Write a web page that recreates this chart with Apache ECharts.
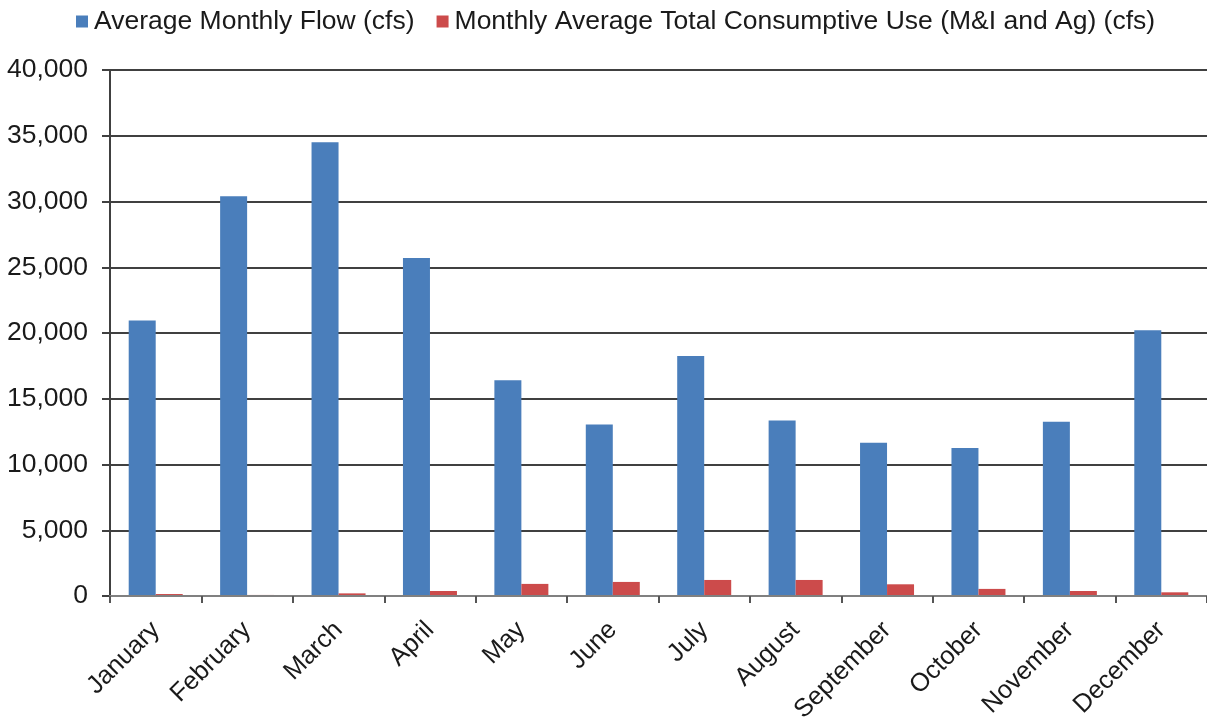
<!DOCTYPE html>
<html>
<head>
<meta charset="utf-8">
<script src="https://cdn.jsdelivr.net/npm/echarts@6/dist/echarts.min.js"></script>
<style>
html,body{margin:0;padding:0;background:#fff;}
#chart{width:1207px;height:719px;}
</style>
</head>
<body>
<div id="chart"></div>
<script>
const months = ['January','February','March','April','May','June','July','August','September','October','November','December'];
const flowName = 'Average Monthly Flow (cfs)';
const useName = 'Monthly Average Total Consumptive Use (M&I and Ag) (cfs)';
const flowValues = [20950, 30400, 34500, 25700, 16400, 13050, 18250, 13350, 11650, 11250, 13250, 20200];
const useValues = [150, 80, 200, 380, 920, 1070, 1220, 1220, 890, 540, 380, 280];
const yTicks = [0, 5000, 10000, 15000, 20000, 25000, 30000, 35000, 40000];

const FONT = '"Liberation Sans", Arial, sans-serif';
const chart = echarts.init(document.getElementById('chart'), null, {renderer: 'canvas'});
chart.setOption({
  animation: false,
  backgroundColor: '#ffffff',
  legend: {
    top: 3,
    left: 71,
    itemWidth: 12,
    itemHeight: 12,
    itemGap: 22,
    icon: 'rect',
    textStyle: {fontFamily: FONT, fontSize: 26.5, color: '#1a1a1a', padding: [0,0,0,1]},
    data: [flowName, useName]
  },
  grid: {left: 110, right: 0, top: 70, bottom: 123, containLabel: false, outerBoundsMode: 'none'},
  xAxis: {
    type: 'category',
    data: months,
    axisLine: {show: true, lineStyle: {color: '#808080', width: 2}},
    axisTick: {show: true, alignWithLabel: false, length: 7, lineStyle: {color: '#555555', width: 2}},
    axisLabel: {rotate: 45, margin: 30, fontFamily: FONT, fontSize: 25.5, color: '#1a1a1a', interval: 0},
    z: 5
  },
  yAxis: {
    type: 'value',
    min: yTicks[0],
    max: yTicks[yTicks.length - 1],
    interval: yTicks[1] - yTicks[0],
    axisLine: {show: true, lineStyle: {color: '#404040', width: 2}},
    axisTick: {show: true, length: 8, lineStyle: {color: '#404040', width: 2}},
    axisLabel: {margin: 22, fontFamily: FONT, fontSize: 26.5, color: '#1a1a1a',
      formatter: v => v.toLocaleString('en-US')},
    splitLine: {show: true, lineStyle: {color: '#404040', width: 2}}
  },
  series: [
    {name: flowName, type: 'bar', data: flowValues, barWidth: 27, barGap: '0%',
      itemStyle: {color: '#4A7EBB'}},
    {name: useName, type: 'bar', data: useValues, barWidth: 27, barGap: '0%',
      itemStyle: {color: '#CC4B4B'}}
  ]
});
</script>
</body>
</html>
